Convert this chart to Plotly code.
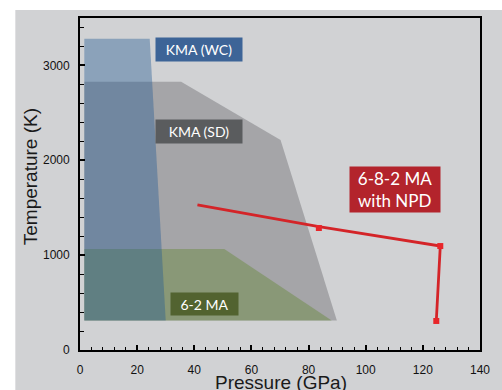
import plotly.graph_objects as go

# ---- data ----
wc_p = [1.5, 1.5, 24.4, 30.0]
wc_t = [310, 3280, 3280, 310]
sd_p = [1.5, 1.5, 35.4, 70.2, 89.9]
sd_t = [310, 2828, 2828, 2214, 310]
ma62_p = [1.5, 1.5, 50.5, 88.1]
ma62_t = [310, 1065, 1065, 310]
npd_p = [41.1, 83.6, 126.1, 124.7]
npd_t = [1529, 1300, 1096, 306]
npd_mark_p = [83.6, 126.1, 124.7]
npd_mark_t = [1286, 1096, 306]

x_ticks = [0, 20, 40, 60, 80, 100, 120, 140]
y_ticks = [0, 1000, 2000, 3000]

BG = "#d1d2d4"
fig = go.Figure()

fig.add_trace(go.Scatter(x=sd_p, y=sd_t, fill="toself", mode="none",
                         fillcolor="rgba(110,111,116,0.45)", hoverinfo="skip"))
fig.add_trace(go.Scatter(x=ma62_p, y=ma62_t, fill="toself", mode="none",
                         fillcolor="rgba(109,140,69,0.5)", hoverinfo="skip"))
fig.add_trace(go.Scatter(x=wc_p, y=wc_t, fill="toself", mode="none",
                         fillcolor="rgba(34,89,148,0.40)", hoverinfo="skip"))
fig.add_trace(go.Scatter(x=npd_p, y=npd_t, mode="lines",
                         line=dict(color="#d42428", width=2.8), hoverinfo="skip"))
fig.add_trace(go.Scatter(x=npd_mark_p, y=npd_mark_t, mode="markers",
                         marker=dict(color="#e8262a", size=6, symbol="square"),
                         hoverinfo="skip"))

def box(text, x, y, w, h, color, size=14):
    fig.add_annotation(x=x, y=y, xref="x", yref="y", text=text, showarrow=False,
                       bgcolor=color, width=w, height=h, borderpad=0,
                       xanchor="center", yanchor="middle", align="center",
                       font=dict(family="Lato", color="white", size=size))

box("KMA (WC)", 41.8, 3168, 86, 23, "#3d6497")
box("KMA (SD)", 41.8, 2303, 86, 23, "#5a5c5e")
box("6-2 MA", 43.7, 485, 67, 22, "#526330")
box("6-8-2 MA<br>with NPD", 110.4, 1692, 90, 45, "#b3242c", size=17)

fig.add_annotation(text="Pressure (GPa)", xref="paper", yref="paper",
                   x=(282 - 80) / 402, y=(350 - 382) / 332, showarrow=False,
                   xanchor="center", yanchor="middle",
                   font=dict(family="Liberation Sans", size=19, color="#1a1a1a"))
fig.add_annotation(text="Temperature (K)", xref="paper", yref="paper",
                   x=(30 - 80) / 402, y=(350 - 177) / 332, showarrow=False,
                   textangle=-90, xanchor="center", yanchor="middle",
                   font=dict(family="Liberation Sans", size=19, color="#1a1a1a"))

# white strips outside the grey card
fig.add_shape(type="rect", xref="paper", yref="paper", x0=-0.25, x1=(15 - 80) / 402,
              y0=-0.2, y1=1.1, fillcolor="white", line_width=0, layer="below")
fig.add_shape(type="rect", xref="paper", yref="paper", x0=-0.25, x1=1.1,
              y0=(350 - 10) / 332, y1=1.1, fillcolor="white", line_width=0, layer="below")

axis_common = dict(showline=True, linecolor="black", linewidth=1.8, mirror=True,
                   ticks="inside", ticklen=5, tickwidth=1.5, tickcolor="black",
                   showgrid=False, zeroline=False,
                   tickfont=dict(family="Liberation Sans", size=12, color="#111"))
fig.update_xaxes(range=[0, 140], tickvals=x_ticks, ticklabelstandoff=8,
                 minor=dict(dtick=4, ticks="inside", ticklen=3, tickcolor="black",
                            tickwidth=1.4, showgrid=False),
                 **axis_common)
fig.update_yaxes(range=[0, 3500], tickvals=y_ticks, ticklabelstandoff=6,
                 minor=dict(dtick=200, ticks="inside", ticklen=4, tickcolor="black",
                            tickwidth=1.4, showgrid=False),
                 **axis_common)

fig.update_layout(width=502, height=390, margin=dict(l=80, r=20, t=18, b=40),
                  paper_bgcolor=BG, plot_bgcolor=BG, showlegend=False)

fig.write_html("out.html")
